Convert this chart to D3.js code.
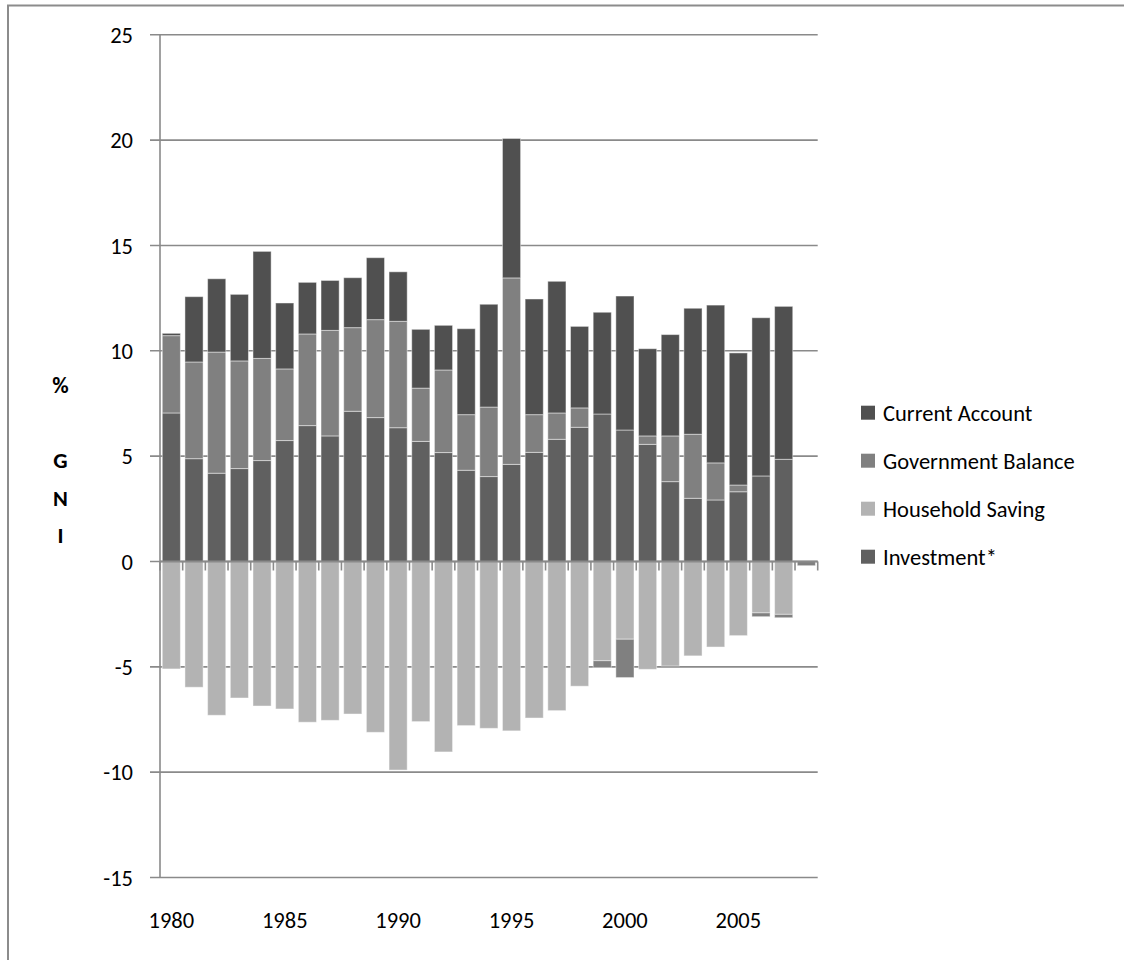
<!DOCTYPE html>
<html>
<head>
<meta charset="utf-8">
<script src="https://cdn.jsdelivr.net/npm/d3@7"></script>
<style>
  html, body { margin: 0; padding: 0; background: #fff; }
  svg { display: block; }
  text { font-family: Carlito, Calibri, Lato, "Open Sans", sans-serif; fill: #000; }
</style>
</head>
<body>
<svg id="chart" width="1124" height="960"></svg>
<script>
// Savings-investment balance, % of GNI, 1980-2008
const years = d3.range(1980, 2009);

const investment = [7.05, 4.88, 4.19, 4.41, 4.79, 5.74, 6.45, 5.96, 7.13, 6.83,
                    6.35, 5.70, 5.17, 4.33, 4.03, 4.61, 5.18, 5.80, 6.37, 7.00,
                    6.24, 5.56, 3.79, 3.00, 2.92, 3.31, 4.06, 4.85, null];

const householdSaving = [-5.10, -5.97, -7.30, -6.48, -6.86, -7.00, -7.63, -7.54, -7.24, -8.11,
                         -9.90, -7.60, -9.04, -7.79, -7.92, -8.04, -7.43, -7.08, -5.92, -4.71,
                         -3.69, -5.12, -4.96, -4.48, -4.06, -3.52, -2.44, -2.51, null];

const governmentBalance = [3.67, 4.59, 5.75, 5.11, 4.85, 3.40, 4.35, 5.01, 3.97, 4.65,
                           5.05, 2.53, 3.92, 2.64, 3.30, 8.85, 1.79, 1.25, 0.92, -0.33,
                           -1.82, 0.40, 2.17, 3.04, 1.76, 0.32, -0.18, -0.16, -0.20];

const currentAccount = [0.11, 3.10, 3.48, 3.16, 5.08, 3.13, 2.45, 2.37, 2.37, 2.94,
                        2.35, 2.79, 2.12, 4.08, 4.88, 6.62, 5.49, 6.25, 3.87, 4.83,
                        6.36, 4.14, 4.81, 5.98, 7.49, 6.27, 7.51, 7.26, null];

const yTicks = [-15, -10, -5, 0, 5, 10, 15, 20, 25];
const xLabelYears = [1980, 1985, 1990, 1995, 2000, 2005];

// stacking order (bottom first) and legend order (top first)
const seriesKeys = ["Investment*", "Household Saving", "Government Balance", "Current Account"];
const seriesColors = ["#606060", "#b3b3b3", "#808080", "#505050"];
const legendKeys = ["Current Account", "Government Balance", "Household Saving", "Investment*"];

const rows = years.map((yr, i) => ({
  year: yr,
  "Investment*": investment[i] ?? 0,
  "Household Saving": householdSaving[i] ?? 0,
  "Government Balance": governmentBalance[i] ?? 0,
  "Current Account": currentAccount[i] ?? 0
}));

const svg = d3.select("#chart");
const fontSize = 22.5;

// outer frame
svg.append("path")
  .attr("d", "M8,965 V5.5 H1130")
  .attr("fill", "none")
  .attr("stroke", "#8c8c8c")
  .attr("stroke-width", 2);

const plot = { left: 160, right: 817.7, top: 34.8, bottom: 877.5 };

const x = d3.scaleBand()
  .domain(years)
  .range([plot.left, plot.right])
  .paddingInner(0.2)
  .paddingOuter(0.1);

const y = d3.scaleLinear()
  .domain([-15, 25])
  .range([plot.bottom, plot.top]);

const color = d3.scaleOrdinal().domain(seriesKeys).range(seriesColors);

// horizontal gridlines with outside tick stubs
svg.append("g")
  .selectAll("line")
  .data(yTicks)
  .join("line")
  .attr("x1", plot.left - 10)
  .attr("x2", plot.right)
  .attr("y1", d => y(d))
  .attr("y2", d => y(d))
  .attr("stroke", "#8a8a8a")
  .attr("stroke-width", 1.6);

// y tick labels
svg.append("g")
  .selectAll("text")
  .data(yTicks)
  .join("text")
  .attr("x", plot.left - 27)
  .attr("y", d => y(d))
  .attr("dy", "0.36em")
  .attr("text-anchor", "end")
  .attr("font-size", fontSize)
  .text(d => d);

// stacked bars
const stacked = d3.stack()
  .keys(seriesKeys)
  .offset(d3.stackOffsetDiverging)(rows);

svg.append("g")
  .selectAll("g")
  .data(stacked)
  .join("g")
  .attr("fill", d => color(d.key))
  .selectAll("rect")
  .data(d => d.filter(s => s[1] !== s[0]))
  .join("rect")
  .attr("x", d => x(d.data.year))
  .attr("width", x.bandwidth())
  .attr("y", d => y(Math.max(d[0], d[1])))
  .attr("height", d => Math.abs(y(d[0]) - y(d[1])))
  .attr("stroke", "rgba(255,255,255,0.45)")
  .attr("stroke-width", 1);

// y axis line
svg.append("line")
  .attr("x1", plot.left).attr("x2", plot.left)
  .attr("y1", plot.top).attr("y2", plot.bottom)
  .attr("stroke", "#8a8a8a")
  .attr("stroke-width", 1.6);

// x axis line at zero with ticks between categories
const zeroY = y(0);
svg.append("line")
  .attr("x1", plot.left).attr("x2", plot.right)
  .attr("y1", zeroY).attr("y2", zeroY)
  .attr("stroke", "#8a8a8a")
  .attr("stroke-width", 2);

const boundaries = d3.range(years.length + 1).map(i => plot.left + i * x.step());
svg.append("g")
  .selectAll("line")
  .data(boundaries)
  .join("line")
  .attr("x1", d => d).attr("x2", d => d)
  .attr("y1", zeroY).attr("y2", zeroY + 9)
  .attr("stroke", "#8a8a8a")
  .attr("stroke-width", 1.6);

// x labels every five years
svg.append("g")
  .selectAll("text")
  .data(xLabelYears)
  .join("text")
  .attr("x", d => x(d) + x.bandwidth() / 2)
  .attr("y", 928)
  .attr("text-anchor", "middle")
  .attr("font-size", fontSize)
  .text(d => d);

// vertical axis title, one character per line
const titleLines = ["%", "", "G", "N", "I"];
svg.append("g")
  .selectAll("text")
  .data(titleLines)
  .join("text")
  .attr("x", 60.5)
  .attr("y", (d, i) => 393 + i * 37.5)
  .attr("text-anchor", "middle")
  .attr("font-size", fontSize)
  .attr("font-weight", "bold")
  .text(d => d);

// legend
const legend = svg.append("g");
const legendItems = legend.selectAll("g")
  .data(legendKeys)
  .join("g")
  .attr("transform", (d, i) => `translate(861, ${412.7 + i * 48})`);

legendItems.append("rect")
  .attr("x", 0)
  .attr("y", -7)
  .attr("width", 14)
  .attr("height", 14)
  .attr("fill", d => color(d));

legendItems.append("text")
  .attr("x", 22)
  .attr("y", 0)
  .attr("dy", "0.36em")
  .attr("font-size", fontSize)
  .text(d => d);
</script>
</body>
</html>
